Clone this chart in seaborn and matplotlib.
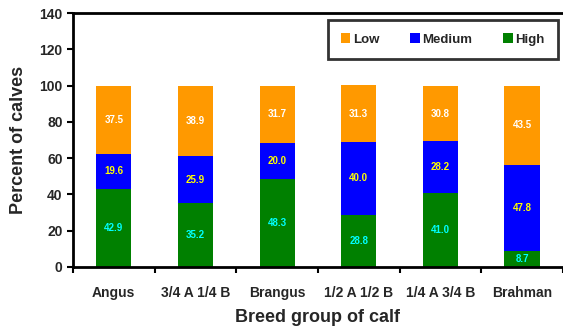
import numpy as np
import pandas as pd
import matplotlib
matplotlib.use("Agg")
import matplotlib.pyplot as plt
import seaborn as sns

breeds = ['Angus', '3/4 A 1/4 B', 'Brangus', '1/2 A 1/2 B', '1/4 A 3/4 B', 'Brahman']
high = [42.9, 35.2, 48.3, 28.8, 41.0, 8.7]
medium = [19.6, 25.9, 20.0, 40.0, 28.2, 47.8]
low = [37.5, 38.9, 31.7, 31.3, 30.8, 43.5]

sns.set_style("white")
plt.rcParams['font.family'] = ['Liberation Sans', 'DejaVu Sans']

df = pd.DataFrame({'breed': breeds, 'High': high, 'Medium': medium, 'Low': low})
df['top_med'] = df['High'] + df['Medium']
df['top_low'] = df['top_med'] + df['Low']

fig = plt.figure(figsize=(5.63, 3.27), dpi=100)
ax = fig.add_axes([0.1297, 0.1835, 0.87, 0.7765])

colors = {'Low': '#FF9900', 'Medium': '#0000FF', 'High': '#008000'}
# overlapping cumulative bars, tallest first
sns.barplot(data=df, x='breed', y='top_low', color=colors['Low'], width=0.43,
            saturation=1, linewidth=0, ax=ax, label='Low')
sns.barplot(data=df, x='breed', y='top_med', color=colors['Medium'], width=0.43,
            saturation=1, linewidth=0, ax=ax, label='Medium')
sns.barplot(data=df, x='breed', y='High', color=colors['High'], width=0.43,
            saturation=1, linewidth=0, ax=ax, label='High')

# segment labels
for i in range(len(breeds)):
    ax.text(i, high[i] / 2, f'{high[i]:.1f}', ha='center', va='center',
            color='#00FFFF', fontsize=7, fontweight='bold')
    ax.text(i, high[i] + medium[i] / 2, f'{medium[i]:.1f}', ha='center', va='center',
            color='#FFFF00', fontsize=7, fontweight='bold')
    ax.text(i, high[i] + medium[i] + low[i] / 2, f'{low[i]:.1f}', ha='center', va='center',
            color='white', fontsize=7, fontweight='bold')

ax.set_ylim(0, 140)
ax.set_xlim(-0.5, len(breeds) - 0.5)
ax.set_yticks(range(0, 141, 20))
ax.set_yticklabels([str(v) for v in range(0, 141, 20)], fontsize=10, fontweight='bold')
ax.set_xticks(range(len(breeds)))
ax.set_xticklabels(breeds, fontsize=10, fontweight='bold')
ax.set_xticks(np.arange(-0.5, len(breeds), 1), minor=True)
ax.tick_params(axis='x', which='major', length=0, pad=14)
ax.tick_params(axis='x', which='minor', bottom=True, length=4, width=1.5,
               direction='out', color='black')
ax.tick_params(axis='y', length=4, width=1.5, direction='out', color='black', left=True)

ax.set_xlabel('Breed group of calf', fontsize=13, fontweight='bold', labelpad=6)
ax.set_ylabel('Percent of calves', fontsize=13, fontweight='bold', labelpad=9)

for s in ['left', 'bottom', 'top']:
    ax.spines[s].set_color('black')
    ax.spines[s].set_linewidth(2)
ax.spines['right'].set_visible(False)

handles, labels = ax.get_legend_handles_labels()
leg = ax.legend(handles, labels, ncol=3, mode='expand',
                bbox_to_anchor=(0.52, 0.827, 0.47, 0.145), loc='upper left',
                frameon=True, fancybox=False, edgecolor='black',
                handlelength=0.7, handleheight=0.7, handletextpad=0.2,
                borderpad=1.0, prop={'size': 9.5, 'weight': 'bold'},
                borderaxespad=0)
leg.get_frame().set_linewidth(2)

fig.savefig('out.png', dpi=100)
